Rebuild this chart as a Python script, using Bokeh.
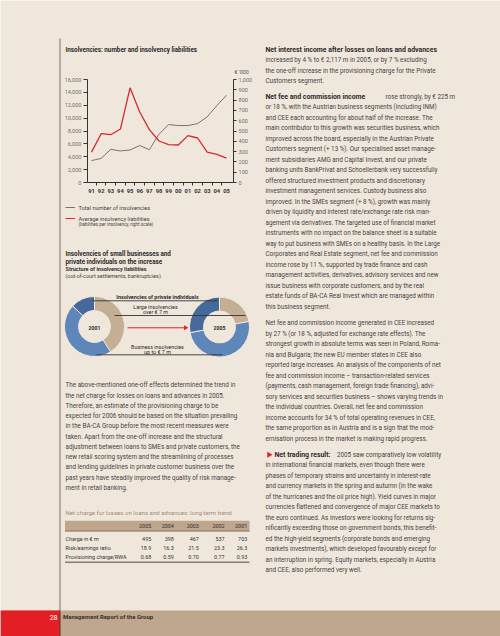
import numpy as np
from bokeh.plotting import figure
from bokeh.models import (ColumnDataSource, Range1d, LinearAxis, FixedTicker, NumeralTickFormatter)
from bokeh.embed import file_html
from bokeh.resources import INLINE
from bokeh.core.properties import value

# ---------------- data ----------------
years = [1991, 1992, 1993, 1994, 1995, 1996, 1997, 1998, 1999, 2000, 2001, 2002, 2003, 2004, 2005]
year_labels = ["91", "92", "93", "94", "95", "96", "97", "98", "99", "00", "01", "02", "03", "04", "05"]
total_insolvencies = [3400, 3750, 5150, 4900, 5050, 5750, 5100, 7500, 9000, 8850, 8850, 9150, 10200, 11950, 13550]
avg_liabilities = [295, 474, 464, 519, 919, 685, 513, 403, 367, 364, 455, 432, 295, 273, 237]
left_ticks = [0, 2000, 4000, 6000, 8000, 10000, 12000, 14000, 16000]
right_ticks = [0, 100, 200, 300, 400, 500, 600, 700, 800, 900, 1000]

donut_labels = ["2001", "2005"]
donut_categories = ["Large insolvencies over € 7 m", "Business insolvencies up to € 7 m",
                    "Insolvencies of private individuals"]
shares_2001 = [41, 46, 13]
shares_2005 = [22, 50, 28]

table_years = ["2005", "2004", "2003", "2002", "2001"]
table_rows = ["Charge in € m", "Risk/earnings ratio", "Provisioning charge/RWA"]
charge = ["495", "398", "467", "537", "703"]
risk_ratio = ["18.9", "16.3", "21.5", "23.3", "26.3"]
prov_rwa = ["0.68", "0.59", "0.70", "0.77", "0.93"]

left_text = [
    "The above-mentioned one-off effects determined the trend in",
    "the net charge for losses on loans and advances in 2005.",
    "Therefore, an estimate of the provisioning charge to be",
    "expected for 2006 should be based on the situation prevailing",
    "in the BA-CA Group before the most recent measures were",
    "taken. Apart from the one-off increase and the structural",
    "adjustment between loans to SMEs and private customers, the",
    "new retail scoring system and the streamlining of processes",
    "and lending guidelines in private customer business over the",
    "past years have steadily improved the quality of risk manage-",
    "ment in retail banking.",
]
para1 = [
    "increased by 4 % to € 2,117 m in 2005, or by 7 % excluding",
    "the one-off increase in the provisioning charge for the Private",
    "Customers segment.",
]
para2 = [
    "or 18 %, with the Austrian business segments (including INM)",
    "and CEE each accounting for about half of the increase. The",
    "main contributor to this growth was securities business, which",
    "improved across the board, especially in the Austrian Private",
    "Customers segment (+ 13 %). Our specialised asset manage-",
    "ment subsidiaries AMG and Capital Invest, and our private",
    "banking units BankPrivat and Schoellerbank very successfully",
    "offered structured investment products and discretionary",
    "investment management services. Custody business also",
    "improved. In the SMEs segment (+ 8 %), growth was mainly",
    "driven by liquidity and interest rate/exchange rate risk man-",
    "agement via derivatives. The targeted use of financial market",
    "instruments with no impact on the balance sheet is a suitable",
    "way to put business with SMEs on a healthy basis. In the Large",
    "Corporates and Real Estate segment, net fee and commission",
    "income rose by 11 %, supported by trade finance and cash",
    "management activities, derivatives, advisory services and new",
    "issue business with corporate customers, and by the real",
    "estate funds of BA-CA Real Invest which are managed within",
    "this business segment.",
]
para3 = [
    "Net fee and commission income generated in CEE increased",
    "by 27 % (or 18 %, adjusted for exchange rate effects). The",
    "strongest growth in absolute terms was seen in Poland, Roma-",
    "nia and Bulgaria; the new EU member states in CEE also",
    "reported large increases. An analysis of the components of net",
    "fee and commission income – transaction-related services",
    "(payments, cash management, foreign trade financing), advi-",
    "sory services and securities business – shows varying trends in",
    "the individual countries. Overall, net fee and commission",
    "income accounts for 34 % of total operating revenues in CEE,",
    "the same proportion as in Austria and is a sign that the mod-",
    "ernisation process in the market is making rapid progress.",
]
para4 = [
    "in international financial markets, even though there were",
    "phases of temporary strains and uncertainty in interest-rate",
    "and currency markets in the spring and autumn (in the wake",
    "of the hurricanes and the oil price high). Yield curves in major",
    "currencies flattened and convergence of major CEE markets to",
    "the euro continued. As investors were looking for returns sig-",
    "nificantly exceeding those on government bonds, this benefit-",
    "ed the high-yield segments (corporate bonds and emerging",
    "markets investments), which developed favourably except for",
    "an interruption in spring. Equity markets, especially in Austria",
    "and CEE, also performed very well.",
]

# ---------------- styles ----------------
PAGE = "#f0e7dc"
TAN = "#bfa78e"
RED = "#e31e24"
TXT = "#444444"
DARK = "#2b2b2b"
F = "Roboto"
BODY = 6.3
BOLD = 6.9
LH = 10.5
DONUT_COLORS = ["#c4ae94", "#5f86b8", "#45699a"]
W, H = 500, 636

p = figure(width=W, height=H, x_range=Range1d(0, W), y_range=Range1d(-H, 0),
           toolbar_location=None, output_backend="svg", min_border=0,
           x_axis_location=None, y_axis_location=None,
           background_fill_color=PAGE, border_fill_color=PAGE, outline_line_color=None)
p.grid.visible = False


def put_text(xs, ys, texts, size, color=TXT, bold=False, align="left", font=F):
    src = ColumnDataSource(dict(x=list(xs), y=[-y for y in ys], t=list(texts)))
    p.text(x="x", y="y", text="t", source=src, text_font=value(font),
           text_font_size=value(f"{size}px"), text_font_style="bold" if bold else "normal",
           text_color=color, text_align=align, text_baseline="middle")


def hline(x0, x1, y, color, width=1.0):
    p.segment(x0=[x0], y0=[-y], x1=[x1], y1=[-y], line_color=color, line_width=width)


# ---------------- page furniture ----------------
p.quad(left=[0], right=[W], top=[-610], bottom=[-H], fill_color=TAN, line_color=None)
p.quad(left=[0], right=[59.5], top=[-610], bottom=[-H], fill_color=RED, line_color=None)
p.segment(x0=[59.5], y0=[-38], x1=[59.5], y1=[-610], line_color="#8a7b6c", line_width=1.1)
p.segment(x0=[59.5], y0=[-610], x1=[59.5], y1=[-H], line_color="#4a3a30", line_width=1)
put_text([57], [616.5], ["28"], 7, color="white", align="right")
put_text([62.5], [616.4], ["Management Report of the Group"], 6.0, color="#3b3128", bold=True)

# ---------------- line chart (own scales, axes at fixed locations) ----------------
CH_L, CH_R, CH_T, CH_B = 87, 233, 79, 182          # plot-area edges on the page (px)
X91, X05 = 91, 226                                  # page x of first / last year
kx = (X05 - X91) / (years[-1] - years[0])
yr_start = years[0] - X91 / kx
p.extra_x_ranges = {"yr": Range1d(yr_start, yr_start + W / kx)}


def y_range_for(vmax):
    s = (CH_B - CH_T) / vmax            # px per unit
    c = -(H - CH_B) / s
    return Range1d(c, c + H / s)


p.extra_y_ranges = {"cnt": y_range_for(left_ticks[-1]), "liab": y_range_for(right_ticks[-1])}

p.line(years, total_insolvencies, x_range_name="yr", y_range_name="cnt", line_color="#7f7367", line_width=1)
p.line(years, avg_liabilities, x_range_name="yr", y_range_name="liab", line_color="#d42a30", line_width=1.3)

xa = LinearAxis(x_range_name="yr", fixed_location=-CH_B,
                bounds=(years[0] - (X91 - CH_L) / kx, years[-1] + (CH_R - X05) / kx),
                ticker=FixedTicker(ticks=years, minor_ticks=[y + 0.5 for y in years[:-1]]))
xa.major_label_overrides = {y: l for y, l in zip(years, year_labels)}
xa.major_tick_out = 0
xa.major_tick_in = 0
xa.minor_tick_out = 3
xa.minor_tick_in = 0
xa.minor_tick_line_color = "#333333"
xa.axis_line_color = "#333333"
xa.major_label_standoff = 3
xa.major_label_text_font = F
xa.major_label_text_font_style = "bold"
xa.major_label_text_font_size = "5.8px"
xa.major_label_text_color = "#333333"
p.add_layout(xa, "below")

ya = LinearAxis(y_range_name="cnt", fixed_location=CH_L, bounds=(0, left_ticks[-1]),
                ticker=FixedTicker(ticks=left_ticks), formatter=NumeralTickFormatter(format="0,0"))
ya.major_tick_out = 4
ya.major_tick_in = 0
ya.minor_tick_line_color = None
ya.axis_line_color = "#333333"
ya.major_tick_line_color = "#333333"
ya.major_label_standoff = 2
ya.major_label_text_font = F
ya.major_label_text_font_size = "5.6px"
ya.major_label_text_color = "#707070"
p.add_layout(ya, "left")

ra = LinearAxis(y_range_name="liab", fixed_location=CH_R, bounds=(0, right_ticks[-1]),
                ticker=FixedTicker(ticks=right_ticks), formatter=NumeralTickFormatter(format="0,0"))
ra.major_tick_out = 3
ra.major_tick_in = 0
ra.minor_tick_line_color = None
ra.axis_line_color = "#333333"
ra.major_tick_line_color = "#333333"
ra.major_label_standoff = 2
ra.major_label_text_font = F
ra.major_label_text_font_size = "5.6px"
ra.major_label_text_color = "#707070"
p.add_layout(ra, "right")

put_text([65], [49.5], ["Insolvencies: number and insolvency liabilities"], 6.3, color=DARK, bold=True)
put_text([234], [71.8], ["€ '000"], 5.4, color="#555555")

# legend
hline(65, 74.5, 207, "#7f7367", 1.2)
hline(65, 74.5, 218, "#d42a30", 1.2)
put_text([78], [207.2], ["Total number of insolvencies"], 5.6)
put_text([78], [218.2], ["Average insolvency liabilities"], 5.6)
put_text([78], [224.4], ["(liabilities per insolvency, right scale)"], 4.6)

# ---------------- donuts ----------------
put_text([65, 65], [253.3, 261.3], ["Insolvencies of small businesses and",
                                     "private individuals on the increase"], 6.3, color=DARK, bold=True)
put_text([65], [268.0], ["Structure of insolvency liabilities"], 5.5, color="#333333", bold=True)
put_text([65], [275.3], ["(out-of-court settlements, bankruptcies)"], 5.4)

centers = [(94, 326.0), (219, 326.5)]
for shares, (cx, cy), lab in zip([shares_2001, shares_2005], centers, donut_labels):
    tot = float(sum(shares))
    cum = np.cumsum([0] + shares) / tot
    src = ColumnDataSource(dict(
        x=[cx] * len(shares), y=[-cy] * len(shares),
        start=list(np.pi / 2 - 2 * np.pi * cum[1:]),
        end=list(np.pi / 2 - 2 * np.pi * cum[:-1]),
        color=DONUT_COLORS, cat=donut_categories))
    p.annular_wedge(x="x", y="y", inner_radius=16, outer_radius=30, start_angle="start",
                    end_angle="end", fill_color="color", line_color=PAGE, line_width=1, source=src)
    put_text([cx], [cy + 1], [lab], 5.2, color=DARK, bold=True, align="center")

hline(92, 217, 300.3, "#333333", 0.9)
hline(114, 245, 315.0, "#333333", 0.9)
hline(96, 222, 354.3, "#333333", 0.9)
put_text([157], [296.5], ["Insolvencies of private individuals"], 5.4, color=DARK, bold=True, align="center")
put_text([155, 155], [306.3, 311.5], ["Large insolvencies", "over € 7 m"], 5.4, color=DARK, align="center")
put_text([157, 157], [346.0, 351.2], ["Business insolvencies", "up to € 7 m"], 5.4, color=DARK, align="center")
hline(127, 184, 327.3, RED, 1.0)
p.scatter(x=[185], y=[-327.3], marker="triangle", size=5, angle=-np.pi / 2, fill_color=RED, line_color=None)

# ---------------- left body text ----------------
put_text([65] * len(left_text), [384.8 + 10.25 * i for i in range(len(left_text))], left_text, BODY)

# ---------------- table ----------------
put_text([65], [511.7], ["Net charge for losses on loans and advances: long-term trend"], 6.1, color="#a38d77")
p.quad(left=[64.5], right=[249], top=[-520.3], bottom=[-530.5], fill_color=TAN, line_color=None)
hline(64.5, 249, 530.6, "#6a5a4c", 0.8)
col_x = [150.7, 173.3, 198.3, 224.0, 246.7]
put_text(col_x, [525.6] * 5, table_years, 5.4, color="#2e2e2e", align="right")
row_y = [538.3, 547.3, 556.4]
put_text([65] * 3, row_y, table_rows, 5.4, color="#333333")
for vals, yy in zip([charge, risk_ratio, prov_rwa], row_y):
    put_text(col_x, [yy] * 5, vals, 5.4, color="#333333", align="right")
hline(64.5, 249, 561.8, "#8a7e72", 1.6)

# ---------------- right column ----------------
put_text([265], [49.3], ["Net interest income after losses on loans and advances"], BOLD, color=DARK, bold=True)
put_text([265] * len(para1), [49.3 + LH * (i + 1) for i in range(len(para1))], para1, BODY)
put_text([265], [96.0], ["Net fee and commission income"], BOLD, color=DARK, bold=True)
put_text([385], [96.0], ["rose strongly, by € 225 m"], BODY)
put_text([265] * len(para2), [96.0 + LH * (i + 1) for i in range(len(para2))], para2, BODY)
put_text([265] * len(para3), [322.7 + LH * i for i in range(len(para3))], para3, BODY)
p.scatter(x=[268.5], y=[-454.3], marker="triangle", size=6, angle=-np.pi / 2, fill_color=RED, line_color=None)
put_text([274], [454.3], ["Net trading result:"], BOLD, color=DARK, bold=True)
put_text([336.5], [454.3], ["2005 saw comparatively low volatility"], BODY)
put_text([265] * len(para4), [454.3 + LH * (i + 1) for i in range(len(para4))], para4, BODY)

open("out.html", "w").write(file_html(p, INLINE))
